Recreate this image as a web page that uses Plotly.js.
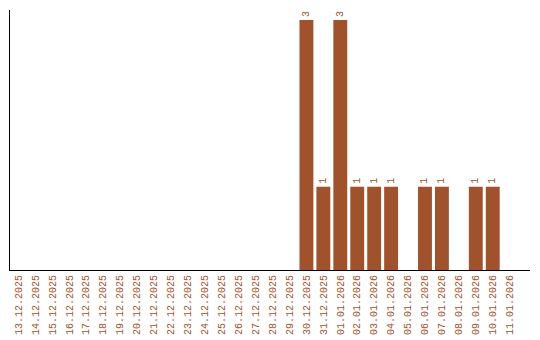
<!DOCTYPE html>
<html><head><meta charset="utf-8">
<script src="https://cdn.plot.ly/plotly-3.0.1.min.js"></script>
<style>html,body{margin:0;padding:0;background:#fff}#c{width:540px;height:340px}</style>
</head><body><div id="c"></div>
<script>
const dates = ["13.12.2025","14.12.2025","15.12.2025","16.12.2025","17.12.2025","18.12.2025","19.12.2025","20.12.2025","21.12.2025","22.12.2025","23.12.2025","24.12.2025","25.12.2025","26.12.2025","27.12.2025","28.12.2025","29.12.2025","30.12.2025","31.12.2025","01.01.2026","02.01.2026","03.01.2026","04.01.2026","05.01.2026","06.01.2026","07.01.2026","08.01.2026","09.01.2026","10.01.2026","11.01.2026"];
const counts = [0,0,0,0,0,0,0,0,0,0,0,0,0,0,0,0,0,3,1,3,1,1,1,0,1,1,0,1,1,0];
const color = "#A0522D";
const labels = counts.map(v => v > 0 ? String(v) : "");
Plotly.newPlot("c", [{
  type: "bar", x: dates, y: counts, marker: {color: color},
  text: labels, textposition: "outside", textangle: -90, cliponaxis: false,
  textfont: {family: "Liberation Mono", size: 10, color: color},
  hoverinfo: "none"
}], {
  width: 540, height: 340,
  margin: {l: 10, r: 10, t: 10, b: 70},
  paper_bgcolor: "#fff", plot_bgcolor: "#fff",
  bargap: 0.18,
  showlegend: false,
  xaxis: {type: "category", range: [-0.5, 30.2], showline: true, linecolor: "#000", linewidth: 1,
    tickangle: -90, ticks: "", showgrid: false, zeroline: false,
    tickfont: {family: "Liberation Mono", size: 10, color: color}},
  yaxis: {range: [0, 3.12], showline: true, linecolor: "#000", linewidth: 1,
    showticklabels: false, ticks: "", showgrid: false, zeroline: false}
}, {displayModeBar: false, staticPlot: true});
</script></body></html>
